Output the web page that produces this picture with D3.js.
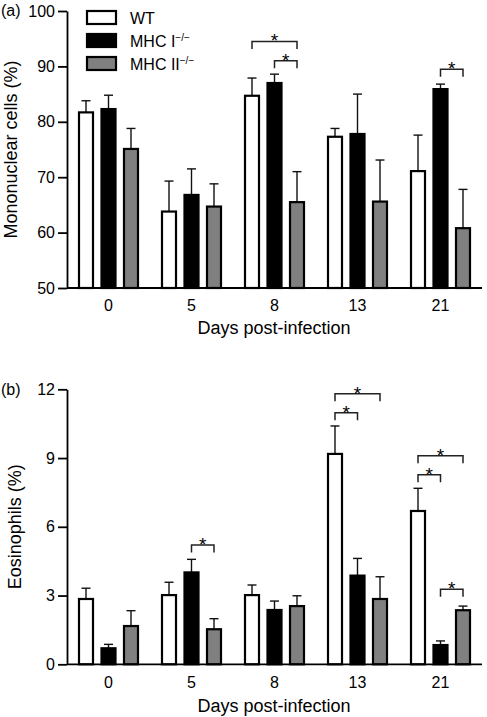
<!DOCTYPE html>
<html><head><meta charset="utf-8">
<script src="https://cdn.jsdelivr.net/npm/d3@7"></script>
<style>
body{margin:0;background:#fff;}
svg{display:block;font-family:"Liberation Sans",Arial,Helvetica,sans-serif;}
</style></head>
<body>
<script>
// ---- data ----
const days = ["0","5","8","13","21"];
const series = ["WT","MHC I","MHC II"];
const seriesFill = ["#ffffff","#000000","#808080"];

// Panel (a) Mononuclear cells (%)
const monoWT      = [81.7, 63.8, 84.7, 77.3, 71.1];
const monoWTErr   = [2.1, 5.5, 3.2, 1.5, 6.5];
const monoMHCI    = [82.3, 66.8, 87.0, 77.8, 85.9];
const monoMHCIErr = [2.5, 4.7, 1.6, 7.2, 0.9];
const monoMHCII   = [75.1, 64.7, 65.5, 65.6, 60.8];
const monoMHCIIErr= [3.7, 4.1, 5.5, 7.5, 7.0];
const monoTicks   = [50, 60, 70, 80, 90, 100];
// significance brackets: [day, from series, to series, height]
const monoSig = [["8","WT","MHC II",94.5],["8","MHC I","MHC II",91.0],["21","MHC I","MHC II",89.5]];

// Panel (b) Eosinophils (%)
const eosWT       = [2.85, 3.02, 3.02, 9.18, 6.69];
const eosWTErr    = [0.47, 0.56, 0.44, 1.22, 0.99];
const eosMHCI     = [0.70, 4.01, 2.37, 3.87, 0.84];
const eosMHCIErr  = [0.17, 0.57, 0.39, 0.75, 0.18];
const eosMHCII    = [1.67, 1.53, 2.54, 2.85, 2.36];
const eosMHCIIErr = [0.67, 0.46, 0.45, 0.97, 0.18];
const eosTicks    = [0, 3, 6, 9, 12];
const eosSig = [["5","MHC I","MHC II",5.21],["13","WT","MHC II",11.81],["13","WT","MHC I",10.98],
                ["21","WT","MHC II",9.10],["21","WT","MHC I",8.27],["21","MHC I","MHC II",3.27]];

const W = 487, H = 717;
const svg = d3.select("body").append("svg").attr("width",W).attr("height",H);

function panel(cfg){
  const g = svg.append("g");
  const x0 = d3.scaleBand().domain(days).range([67, 482]);
  const x1 = d3.scalePoint().domain(series).range([-22.5, 22.5]);
  const y = d3.scaleLinear().domain(cfg.domain).range(cfg.yRange);
  const bw = 14;
  const cx = (d, s) => x0(d) + x0.bandwidth()/2 + x1(s);

  const rows = [];
  series.forEach((s, si) => {
    days.forEach((d, di) => {
      rows.push({day:d, s, si, v:cfg.vals[si][di], e:cfg.errs[si][di]});
    });
  });

  // error bars
  const eb = g.append("g").attr("stroke","#111").attr("stroke-width",1.4);
  eb.selectAll("line.v").data(rows).join("line")
    .attr("x1", r=>cx(r.day,r.s)).attr("x2", r=>cx(r.day,r.s))
    .attr("y1", r=>y(r.v)).attr("y2", r=>y(r.v+r.e));
  eb.selectAll("line.c").data(rows).join("line")
    .attr("x1", r=>cx(r.day,r.s)-4.5).attr("x2", r=>cx(r.day,r.s)+4.5)
    .attr("y1", r=>y(r.v+r.e)).attr("y2", r=>y(r.v+r.e));

  // bars
  g.append("g").selectAll("rect").data(rows).join("rect")
    .attr("x", r=>cx(r.day,r.s)-bw/2).attr("width", bw)
    .attr("y", r=>y(r.v)).attr("height", r=>y(cfg.domain[0])-y(r.v))
    .attr("fill", r=>seriesFill[r.si]).attr("stroke","#000").attr("stroke-width",2.2);

  // axes
  const ya = g.append("g").attr("transform","translate(67,0)")
    .call(d3.axisLeft(y).tickValues(cfg.ticks).tickSize(9).tickPadding(3).tickSizeOuter(0));
  const xa = g.append("g").attr("transform",`translate(0,${cfg.yRange[0]})`)
    .call(d3.axisBottom(x0).tickSize(0).tickPadding(12).tickSizeOuter(0));
  [ya, xa].forEach(a=>{
    a.selectAll("path,line").attr("stroke","#000").attr("stroke-width",1.8);
    a.selectAll("text").attr("font-size",16).attr("fill","#000")
      .attr("font-family","'Liberation Sans',Arial,sans-serif");
  });
  xa.select("path").attr("d",`M67,0H482`);

  // significance brackets
  const bg = g.append("g");
  cfg.sig.forEach(([d, a, b, h]) => {
    const xa_ = cx(d,a), xb = cx(d,b), yy = y(h);
    bg.append("path").attr("d",`M${xa_},${yy+7.5}V${yy}H${xb}V${yy+7.5}`)
      .attr("fill","none").attr("stroke","#222").attr("stroke-width",1.5);
    bg.append("text").attr("x",(xa_+xb)/2).attr("y",yy+6).attr("text-anchor","middle")
      .attr("font-size",19).text("*");
  });

  // axis titles
  g.append("text").attr("x",274).attr("y",cfg.xTitleY).attr("text-anchor","middle")
    .attr("font-size",18).text("Days post-infection");
  g.append("text").attr("transform",`translate(${cfg.yTitleX},${(cfg.yRange[0]+cfg.yRange[1])/2}) rotate(-90)`)
    .attr("text-anchor","middle").attr("font-size",18).text(cfg.yTitle);
  g.append("text").attr("x",1).attr("y",cfg.labelY).attr("font-size",16).text(cfg.label);
}

panel({domain:[50,100], yRange:[288,11], ticks:monoTicks,
  vals:[monoWT,monoMHCI,monoMHCII], errs:[monoWTErr,monoMHCIErr,monoMHCIIErr],
  sig:monoSig, xTitleY:334, yTitleX:16.5, yTitle:"Mononuclear cells (%)", label:"(a)", labelY:16});

panel({domain:[0,12], yRange:[664.3,389.3], ticks:eosTicks,
  vals:[eosWT,eosMHCI,eosMHCII], errs:[eosWTErr,eosMHCIErr,eosMHCIIErr],
  sig:eosSig, xTitleY:712, yTitleX:20.5, yTitle:"Eosinophils (%)", label:"(b)", labelY:395});

// legend
const leg = svg.append("g");
series.forEach((s, i) => {
  const yy = 11 + i*23;
  leg.append("rect").attr("x",87).attr("y",yy).attr("width",29).attr("height",13)
    .attr("fill",seriesFill[i]).attr("stroke","#000").attr("stroke-width",2.2);
  const t = leg.append("text").attr("x",130).attr("y",yy+12.5).attr("font-size",16);
  t.append("tspan").text(s);
  if (i > 0) t.append("tspan").attr("dy",-6).attr("font-size",10).text("\u2212/\u2212");
});
</script>
</body></html>
